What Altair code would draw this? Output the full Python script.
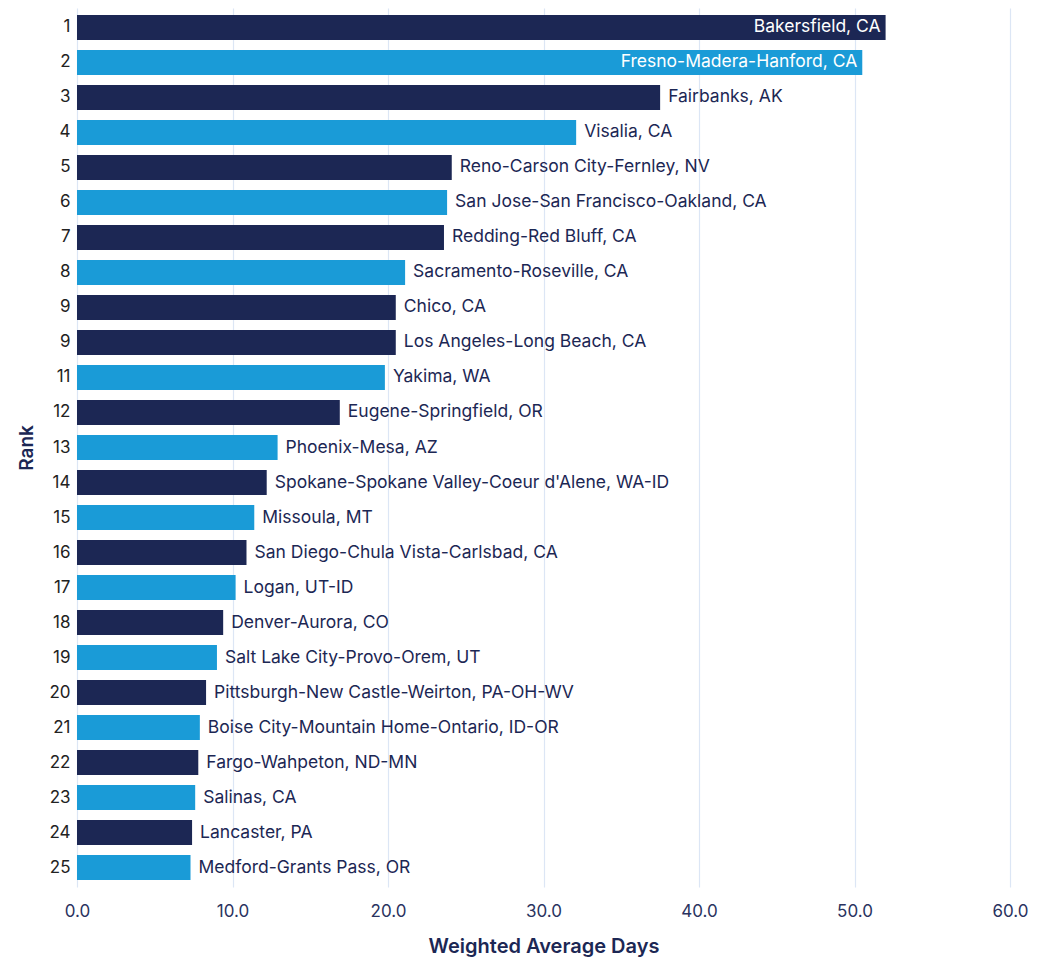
import altair as alt
import pandas as pd

ranks = ["1","2","3","4","5","6","7","8","9","9","11","12","13","14","15","16","17","18","19","20","21","22","23","24","25"]
cities = ["Bakersfield, CA","Fresno-Madera-Hanford, CA","Fairbanks, AK","Visalia, CA",
          "Reno-Carson City-Fernley, NV","San Jose-San Francisco-Oakland, CA","Redding-Red Bluff, CA",
          "Sacramento-Roseville, CA","Chico, CA","Los Angeles-Long Beach, CA","Yakima, WA",
          "Eugene-Springfield, OR","Phoenix-Mesa, AZ","Spokane-Spokane Valley-Coeur d'Alene, WA-ID",
          "Missoula, MT","San Diego-Chula Vista-Carlsbad, CA","Logan, UT-ID","Denver-Aurora, CO",
          "Salt Lake City-Provo-Orem, UT","Pittsburgh-New Castle-Weirton, PA-OH-WV",
          "Boise City-Mountain Home-Ontario, ID-OR","Fargo-Wahpeton, ND-MN","Salinas, CA",
          "Lancaster, PA","Medford-Grants Pass, OR"]
days = [52.0, 50.5, 37.5, 32.1, 24.1, 23.8, 23.6, 21.1, 20.5, 20.5, 19.8, 16.9, 12.9, 12.2,
        11.4, 10.9, 10.2, 9.4, 9.0, 8.3, 7.9, 7.8, 7.6, 7.4, 7.3]
groups = ["dark","light","dark","light","dark","light","dark","light","dark","dark","light","dark",
          "light","dark","light","dark","light","dark","light","dark","light","dark","light","dark","light"]
inside = [True, True] + [False] * 23

df = pd.DataFrame({"idx": list(range(len(ranks))), "rank": ranks, "city": cities,
                   "days": days, "group": groups, "inside": inside})

DARK = "#1c2754"
LIGHT = "#1a9bd7"
FONT = "Inter"
label_arr = "[" + ",".join("'%s'" % r for r in ranks) + "]"

y_enc = alt.Y("idx:O", title="Rank",
              scale=alt.Scale(paddingInner=0.286, paddingOuter=0.2),
              axis=alt.Axis(labelExpr=label_arr + "[datum.value]", ticks=False, domain=False,
                            grid=False, labelFontSize=17, labelColor="#222222", labelFont=FONT,
                            labelPadding=7, titleFontSize=19, titleFont=FONT, titleColor=DARK,
                            titleFontWeight=600, titlePadding=12))
x_enc = alt.X("days:Q", title="Weighted Average Days",
              scale=alt.Scale(domain=[0, 60], nice=False),
              axis=alt.Axis(values=[0, 10, 20, 30, 40, 50, 60], format=".1f", ticks=False,
                            domain=False, grid=True, gridColor="#dce6f5", gridWidth=1.2,
                            labelFontSize=17, labelColor="#2a3360", labelFont=FONT,
                            labelFlush=False, labelOverlap=False,
                            labelPadding=16, titleFontSize=20, titleFont=FONT, titleColor=DARK,
                            titleFontWeight=600, titlePadding=17))

base = alt.Chart(df)
bars = base.mark_bar().encode(
    x=x_enc, y=y_enc,
    color=alt.Color("group:N", scale=alt.Scale(domain=["dark", "light"], range=[DARK, LIGHT]),
                    legend=None))
out_text = base.transform_filter("!datum.inside").mark_text(
    align="left", baseline="middle", dx=8, fontSize=17.5, font=FONT, color=DARK
).encode(x="days:Q", y="idx:O", text="city:N")
in_text = base.transform_filter("datum.inside").mark_text(
    align="right", baseline="middle", dx=-5, fontSize=17.5, font=FONT, color="white"
).encode(x="days:Q", y="idx:O", text="city:N")

chart = alt.layer(bars, out_text, in_text).properties(
    width=933, height=879,
    background="white",
    autosize=alt.AutoSizeParams(type="none"),
    padding={"left": 77, "top": 8, "right": 37, "bottom": 75},
).configure_view(stroke=None)

chart.save("out.html", embed_options={"renderer": "svg", "actions": False})
